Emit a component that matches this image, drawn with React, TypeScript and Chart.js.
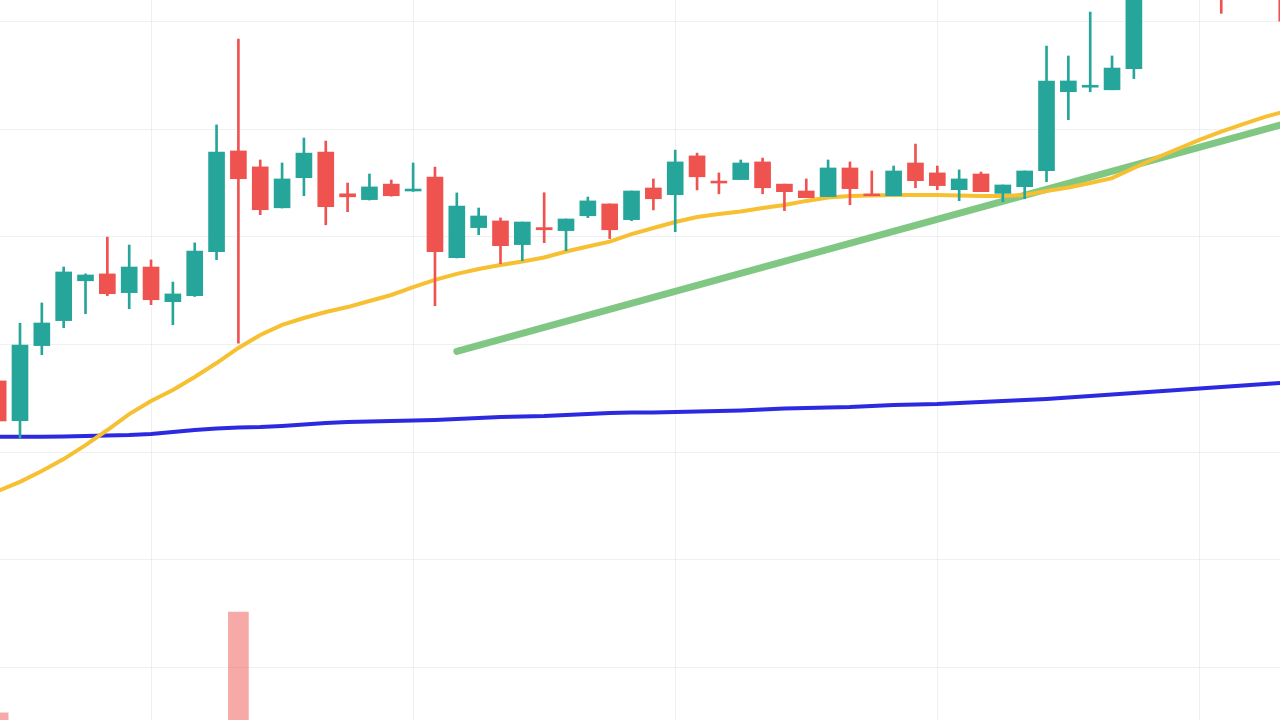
import { useEffect, useRef } from "react";
import { Chart, registerables } from "chart.js";

Chart.register(...registerables);

// candle index (session number)
const candleIndex = [
  -1, 0, 1, 2, 3, 4, 5, 6, 7, 8, 9, 10, 11, 12, 13, 14, 15, 16, 17, 18, 19,
  20, 21, 22, 23, 24, 25, 26, 27, 28, 29, 30, 31, 32, 33, 34, 35, 36, 37, 38,
  39, 40, 41, 42, 43, 44, 45, 46, 47, 48, 49, 50, 51, 52, 53, 54, 55, 56, 57, 58,
];

const opens = [
  113.31, 111.46, 114.95, 116.11, 117.96, 118.28, 117.41, 118.6, 116.99, 117.27,
  119.31, 123.99, 123.25, 121.35, 122.75, 123.94, 122.0, 121.73, 122.45, 122.13,
  122.78, 119.03, 120.43, 120.74, 119.64, 120.43, 120.29, 120.98, 121.53, 120.8,
  122.27, 121.96, 123.76, 122.59, 122.66, 123.48, 122.45, 122.13, 121.87, 123.2,
  121.99, 121.91, 123.43, 122.97, 122.19, 122.92, 122.02, 122.33, 123.07, 126.74,
  126.95, 126.83, 127.81, 131.9, 133.1, 133.7, 133.9, 131.8, 132.9, 132.6,
];
const highs = [
  113.45, 115.99, 116.93, 118.6, 118.28, 119.99, 119.62, 118.93, 117.9, 119.72,
  125.2, 129.19, 123.57, 123.43, 124.59, 124.45, 122.5, 122.92, 122.64, 123.43,
  123.24, 122.04, 121.34, 120.88, 120.69, 122.05, 120.83, 121.85, 121.53, 122.13,
  122.69, 124.03, 123.89, 122.97, 123.57, 123.66, 122.45, 122.69, 123.57, 123.48,
  123.06, 123.29, 124.31, 123.29, 123.11, 123.01, 122.41, 123.06, 128.86, 128.4,
  130.44, 128.4, 132.9, 133.6, 134.2, 134.8, 134.6, 133.4, 133.8, 133.1,
];
const lows = [
  111.36, 110.65, 114.53, 115.78, 116.43, 117.27, 116.66, 116.85, 115.92, 117.23,
  118.94, 115.06, 121.03, 121.34, 121.91, 120.56, 121.17, 121.71, 121.89, 122.11,
  116.8, 119.02, 120.1, 118.75, 118.89, 119.73, 119.36, 120.89, 119.92, 120.75,
  121.25, 120.24, 122.18, 122.0, 122.66, 122.0, 121.22, 121.82, 121.87, 121.49,
  121.91, 121.91, 122.28, 122.19, 121.68, 122.1, 121.63, 121.77, 122.56, 125.44,
  126.74, 126.83, 127.35, 131.3, 132.2, 132.6, 130.38, 131.3, 131.6, 130.02,
];
const closes = [
  111.45, 114.98, 116.0, 118.37, 118.23, 117.36, 118.6, 117.08, 117.35, 119.34,
  123.94, 122.7, 121.26, 122.69, 123.89, 121.4, 121.86, 122.32, 121.91, 122.22,
  119.31, 121.43, 120.97, 119.59, 120.69, 120.33, 120.83, 121.67, 120.33, 122.13,
  121.77, 123.48, 122.79, 122.5, 123.43, 122.28, 122.1, 121.82, 123.2, 122.24,
  121.91, 123.06, 122.61, 122.38, 122.69, 122.1, 122.41, 123.06, 127.24, 127.24,
  127.04, 127.84, 131.9, 133.1, 133.7, 134.3, 131.6, 132.9, 132.2, 130.02,
];

// volume (only the bars tall enough to show are known)
const volumes: (number | null)[] = [
  812, null, null, null, null, null, null, null, null, null, null, 980, null,
  null, null, null, null, null, null, null, null, null, null, null, null, null,
  null, null, null, null, null, null, null, null, null, null, null, null, null,
  null, null, null, null, null, null, null, null, null, null, null, null, null,
  null, null, null, null, null, null, null, null,
];

// fast moving average (yellow)
const maFast = [
  108.2, 108.62, 109.13, 109.68, 110.33, 111.03, 111.77, 112.38, 112.89, 113.49,
  114.14, 114.84, 115.44, 115.91, 116.23, 116.51, 116.74, 117.02, 117.3, 117.67,
  118.0, 118.28, 118.51, 118.69, 118.86, 119.04, 119.32, 119.55, 119.78, 120.13,
  120.41, 120.69, 120.92, 121.06, 121.18, 121.34, 121.48, 121.67, 121.83, 121.9,
  121.92, 121.94, 121.94, 121.94, 121.92, 121.9, 121.9, 121.94, 122.13, 122.29,
  122.5, 122.73, 123.2, 123.66, 124.08, 124.5, 124.89, 125.24, 125.57, 125.85,
];

// slow moving average (blue)
const maSlow = [
  110.72, 110.72, 110.72, 110.73, 110.75, 110.78, 110.8, 110.85, 110.94, 111.03,
  111.1, 111.15, 111.17, 111.22, 111.29, 111.36, 111.4, 111.43, 111.45, 111.47,
  111.5, 111.54, 111.59, 111.63, 111.66, 111.68, 111.73, 111.77, 111.82, 111.84,
  111.84, 111.87, 111.89, 111.91, 111.94, 111.98, 112.03, 112.05, 112.08, 112.1,
  112.15, 112.19, 112.22, 112.24, 112.29, 112.33, 112.38, 112.42, 112.47, 112.54,
  112.61, 112.68, 112.75, 112.82, 112.89, 112.96, 113.03, 113.1, 113.17, 113.24,
];

// drawn trend line
const trendIndex = [20, 58];
const trendValues = [114.68, 125.27];

const priceGridTicks = [100, 105, 110, 115, 120, 125, 130];
const timeGridTicks = [6, 18, 30, 42, 54];

const UP = "#26a69a";
const DOWN = "#ef5350";

export default function App() {
  const ref = useRef<HTMLCanvasElement | null>(null);

  useEffect(() => {
    if (!ref.current) return;
    const colors = candleIndex.map((_, i) => (closes[i] >= opens[i] ? UP : DOWN));
    const bodies = candleIndex.map((x, i) => ({ x, y: [opens[i], closes[i]] }));
    const wicks = candleIndex.map((x, i) => ({ x, y: [lows[i], highs[i]] }));
    const vol = candleIndex
      .map((x, i) => ({ x, v: volumes[i] }))
      .filter((d) => d.v !== null)
      .map((d) => ({ x: d.x, y: [0, d.v as number] }));

    const chart = new Chart(ref.current, {
      type: "bar",
      data: {
        datasets: [
          {
            type: "bar",
            data: bodies as any,
            backgroundColor: colors,
            barThickness: 16,
            minBarLength: 1,
            borderWidth: 0,
            order: 0,
            yAxisID: "y",
          },
          {
            type: "bar",
            data: wicks as any,
            backgroundColor: colors,
            barThickness: 2,
            borderWidth: 0,
            order: 1,
            yAxisID: "y",
          },
          {
            type: "line",
            data: candleIndex.map((x, i) => ({ x, y: maFast[i] })),
            borderColor: "#f7c032",
            borderWidth: 4,
            pointRadius: 0,
            tension: 0,
            order: 2,
            yAxisID: "y",
          },
          {
            type: "line",
            data: candleIndex.map((x, i) => ({ x, y: maSlow[i] })),
            borderColor: "#2c2ae0",
            borderWidth: 4,
            pointRadius: 0,
            tension: 0,
            order: 3,
            yAxisID: "y",
          },
          {
            type: "line",
            data: trendIndex.map((x, i) => ({ x, y: trendValues[i] })),
            borderColor: "#81c784",
            borderWidth: 7,
            borderCapStyle: "round",
            pointRadius: 0,
            order: 4,
            yAxisID: "y",
          },
          {
            type: "bar",
            data: vol as any,
            backgroundColor: "rgba(239,83,80,0.5)",
            barThickness: 20,
            borderWidth: 0,
            order: 5,
            yAxisID: "vol",
          },
        ] as any,
      },
      options: {
        animation: false,
        responsive: false,
        events: [],
        layout: { padding: 0 },
        plugins: { legend: { display: false }, tooltip: { enabled: false } },
        datasets: { bar: { grouped: false } } as any,
        scales: {
          x: {
            type: "linear",
            min: -0.9153,
            max: 57.69,
            offset: false,
            ticks: { display: false },
            border: { display: false },
            grid: { color: "rgba(0,0,0,0.06)", drawTicks: false, offset: false },
            afterBuildTicks: (s: any) => {
              s.ticks = timeGridTicks.map((v) => ({ value: v }));
            },
          },
          y: {
            type: "linear",
            min: 97.563,
            max: 131,
            ticks: { display: false },
            border: { display: false },
            grid: { color: "rgba(0,0,0,0.06)", drawTicks: false },
            afterBuildTicks: (s: any) => {
              s.ticks = priceGridTicks.map((v) => ({ value: v }));
            },
          },
          vol: {
            type: "linear",
            display: false,
            min: 800,
            max: 2000,
          },
        } as any,
      },
    });
    return () => chart.destroy();
  }, []);

  return (
    <div style={{ position: "fixed", left: 0, top: 0, width: 1280, height: 720, background: "#fff" }}>
      <canvas ref={ref} width={1280} height={720} style={{ display: "block" }} />
    </div>
  );
}
